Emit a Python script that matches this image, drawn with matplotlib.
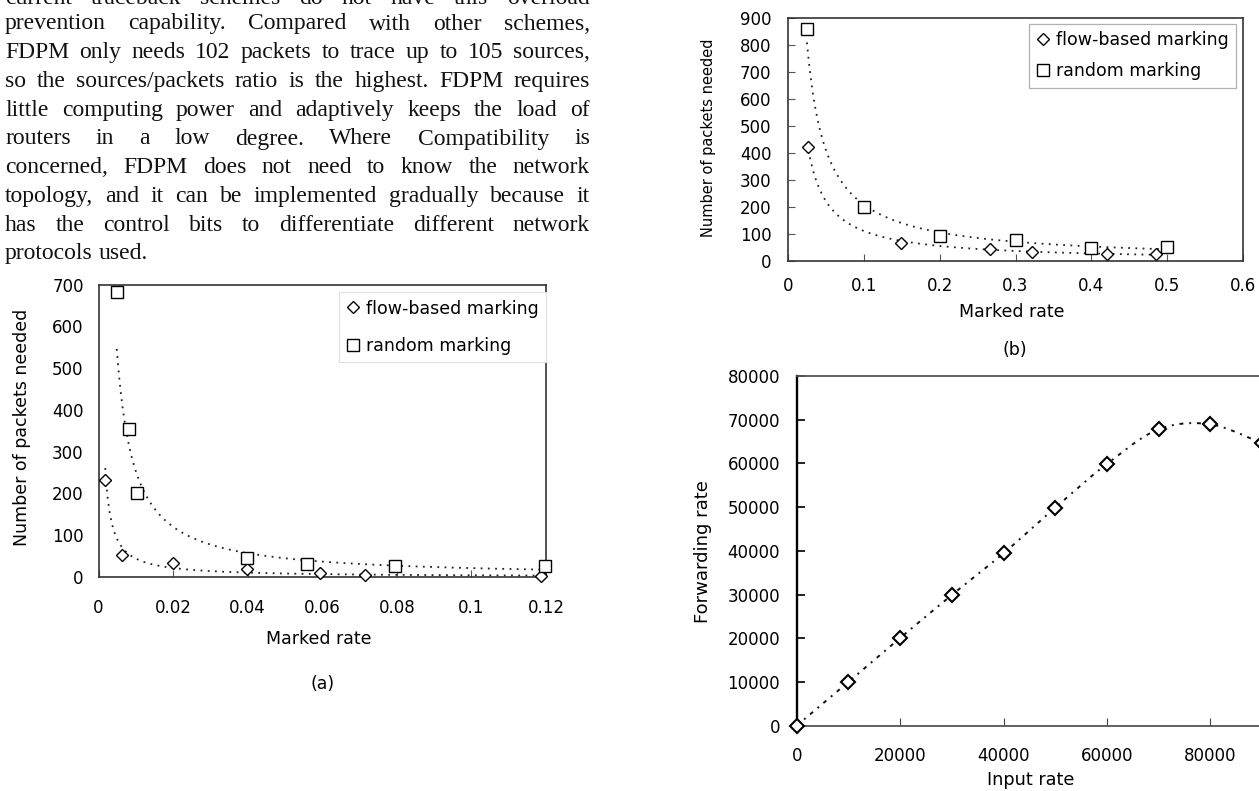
import numpy as np
import matplotlib
matplotlib.use("Agg")
import matplotlib.pyplot as plt
from matplotlib.ticker import FuncFormatter
from matplotlib.lines import Line2D

W, H = 1259, 791

# ---- data ----
a_flow_x = [0.0018, 0.0062, 0.0199, 0.0399, 0.0594, 0.0714, 0.1187]
a_flow_y = [233, 52, 34, 18, 10, 4, 2]
a_rand_x = [0.0049, 0.0081, 0.0102, 0.0398, 0.0558, 0.0795, 0.1197]
a_rand_y = [682, 353, 201, 46, 30, 26, 27]

b_flow_x = [0.027, 0.149, 0.267, 0.322, 0.42, 0.485]
b_flow_y = [424, 68, 43, 35, 25, 25]
b_rand_x = [0.025, 0.1, 0.2, 0.3, 0.4, 0.5]
b_rand_y = [860, 199, 93, 78, 47, 51]

c_input = [0, 10000, 20000, 30000, 40000, 50000, 60000, 70000, 80000, 90000]
c_forward = [0, 10000, 20060, 29900, 39440, 49890, 59880, 67800, 68950, 64600]

legend_labels = ["flow-based marking", "random marking"]

paragraph = [
    "current traceback schemes do not have this overload",
    "prevention capability. Compared with other schemes,",
    "FDPM only needs 102 packets to trace up to 105 sources,",
    "so the sources/packets ratio is the highest. FDPM requires",
    "little computing power and adaptively keeps the load of",
    "routers in a low degree. Where Compatibility is",
    "concerned, FDPM does not need to know the network",
    "topology, and it can be implemented gradually because it",
    "has the control bits to differentiate different network",
    "protocols used.",
]

plt.rcParams["font.family"] = "DejaVu Sans"
fig = plt.figure(figsize=(W / 100, H / 100), dpi=100)


def fx(x):
    return x / W


def fy(y):
    return 1 - y / H


def px_axes(left, top, right, bottom):
    return fig.add_axes([fx(left), fy(bottom), (right - left) / W, (bottom - top) / H])


def power_fit(x, y):
    # excel style power trendline: least squares in log-log space
    b, lna = np.polyfit(np.log(x), np.log(y), 1)
    xs = np.linspace(min(x), max(x), 200)
    return xs, np.exp(lna) * xs ** b


def smooth_line(x, y, n=25):
    pts = np.column_stack([x, y]).astype(float)
    pts = np.vstack([pts[0], pts, pts[-1]])
    t = np.linspace(0, 1, n)[:, None]
    segs = []
    for i in range(1, len(pts) - 2):
        p0, p1, p2, p3 = pts[i - 1:i + 3]
        segs.append(0.5 * (2 * p1 + (-p0 + p2) * t
                           + (2 * p0 - 5 * p1 + 4 * p2 - p3) * t ** 2
                           + (-p0 + 3 * p1 - 3 * p2 + p3) * t ** 3))
    s = np.vstack(segs)
    return s[:, 0], s[:, 1]


def fig_label(ax, axis, text, x, y, size, rot=0):
    lab = ax.set_xlabel(text) if axis == "x" else ax.set_ylabel(text)
    lab.set_fontsize(size)
    lab.set_rotation(rot)
    lab.set_verticalalignment("center")
    lab.set_horizontalalignment("center")
    lab.set_rotation_mode("anchor")
    getattr(ax, axis + "axis").set_label_coords(fx(x), fy(y), transform=fig.transFigure)


gfmt = FuncFormatter(lambda v, p: "%g" % v)
mk = dict(mfc="white", mec="black", ls="none", clip_on=False, zorder=5)
trend = dict(color="#222222", lw=1.3, ls=(0, (1, 3)))


def legend_handles(ms_d, ms_s):
    return [Line2D([], [], marker="D", ms=ms_d, mfc="white", mec="black", mew=1.0, ls="none"),
            Line2D([], [], marker="s", ms=ms_s, mfc="white", mec="black", mew=1.0, ls="none")]


# ---- justified paragraph (first line is cut by the page edge) ----
renderer = fig.canvas.get_renderer()
col_left, col_right = 5, 590
for k, line in enumerate(paragraph):
    base = 4 if k == 0 else 29.5 + (k - 1) * 28.75
    words = line.split()
    txts = [fig.text(0, 0, w, family="Liberation Serif", fontsize=17, va="baseline",
                     color="#111111")
            for w in words]
    widths = [t.get_window_extent(renderer).width for t in txts]
    if k == len(paragraph) - 1:
        g = 5.5
    else:
        g = (col_right - col_left - sum(widths)) / (len(words) - 1)
    x = col_left
    for t, w in zip(txts, widths):
        t.set_position((fx(x), fy(base)))
        x += w + g

# ---- chart (a) ----
ax = px_axes(98.5, 284.5, 546, 577)
ax.plot(*power_fit(a_flow_x, a_flow_y), **trend)
ax.plot(*power_fit(a_rand_x, a_rand_y), **trend)
ax.plot(a_flow_x, a_flow_y, marker="D", ms=5.8, mew=1.0, **mk)
ax.plot(a_rand_x, a_rand_y, marker="s", ms=8.3, mew=1.0, **mk)
ax.set_xlim(0, 0.12)
ax.set_ylim(0, 700)
ax.set_xticks(np.arange(0, 0.121, 0.02))
ax.set_yticks(range(0, 701, 100))
ax.xaxis.set_major_formatter(gfmt)
ax.tick_params(axis="x", direction="in", length=5, color="#555555", pad=15.5, labelsize=12)
ax.tick_params(axis="y", length=0, pad=10.7, labelsize=12)
for s in ax.spines.values():
    s.set_color("#333333")
    s.set_linewidth(1.2)
fig_label(ax, "x", "Marked rate", 319, 639, 12.5)
fig_label(ax, "y", "Number of packets needed", 22, 427.5, 12.5, rot=90)
leg = ax.legend(legend_handles(5.8, 8.3), legend_labels, loc="upper left",
                bbox_to_anchor=(fx(338.7), fy(291.7)), bbox_transform=fig.transFigure,
                borderaxespad=0, borderpad=0.45, handlelength=0.8, handletextpad=0.3,
                labelspacing=1.1, fontsize=12.5, fancybox=False, framealpha=1)
leg.get_frame().set_edgecolor("#e0e0e0")
leg.get_frame().set_linewidth(0.8)
fig.text(fx(323), fy(684), "(a)", ha="center", va="center", fontsize=12.5)

# ---- chart (b) ----
ax = px_axes(788, 18, 1243, 261)
ax.plot(*power_fit(b_flow_x, b_flow_y), **trend)
ax.plot(*power_fit(b_rand_x, b_rand_y), **trend)
ax.plot(b_flow_x, b_flow_y, marker="D", ms=5.8, mew=1.0, **mk)
ax.plot(b_rand_x, b_rand_y, marker="s", ms=8.3, mew=1.0, **mk)
ax.set_xlim(0, 0.6)
ax.set_ylim(0, 900)
ax.set_xticks(np.arange(0, 0.61, 0.1))
ax.set_yticks(range(0, 901, 100))
ax.xaxis.set_major_formatter(gfmt)
ax.tick_params(axis="x", direction="in", length=5, color="#555555", pad=11.6, labelsize=12)
ax.tick_params(axis="y", direction="in", length=5, color="#555555", pad=12, labelsize=12)
for s in ax.spines.values():
    s.set_color("#333333")
    s.set_linewidth(1.2)
fig_label(ax, "x", "Marked rate", 1011.7, 311.7, 12.5)
fig_label(ax, "y", "Number of packets needed", 708, 137.5, 10.5, rot=90)
leg = ax.legend(legend_handles(5.8, 8.3), legend_labels, loc="upper left",
                bbox_to_anchor=(fx(1029), fy(24)), bbox_transform=fig.transFigure,
                borderaxespad=0, borderpad=0.43, handlelength=0.8, handletextpad=0.3,
                labelspacing=0.75, fontsize=12.5, fancybox=False, framealpha=1)
leg.get_frame().set_edgecolor("#b0b0b0")
leg.get_frame().set_linewidth(0.9)
fig.text(fx(1015), fy(350), "(b)", ha="center", va="center", fontsize=12.5)

# ---- chart (c) ----
ax = px_axes(796.7, 376, 1313.7, 725.7)
ax.plot(*smooth_line(c_input, c_forward), color="#111111", lw=1.4, ls=(0, (2, 3, 1, 3)))
ax.plot(c_input, c_forward, marker="D", ms=6.8, mew=1.5, **mk)
ax.set_xlim(0, 100000)
ax.set_ylim(0, 80000)
ax.set_xticks(range(0, 80001, 20000))
ax.set_yticks(range(0, 80001, 10000))
ax.tick_params(axis="x", direction="in", length=6, color="#444444", pad=15.5, labelsize=12)
ax.tick_params(axis="y", direction="in", length=6, color="#111111", width=1.3, pad=12, labelsize=12)
ax.spines["left"].set_color("black")
ax.spines["left"].set_linewidth(1.7)
for side in ["top", "bottom"]:
    ax.spines[side].set_color("#555555")
    ax.spines[side].set_linewidth(1.3)
ax.spines["right"].set_visible(False)
fig_label(ax, "x", "Input rate", 1030.8, 780, 12.7)
fig_label(ax, "y", "Forwarding rate", 703, 551.7, 13, rot=90)

fig.savefig("out.png", dpi=100)
